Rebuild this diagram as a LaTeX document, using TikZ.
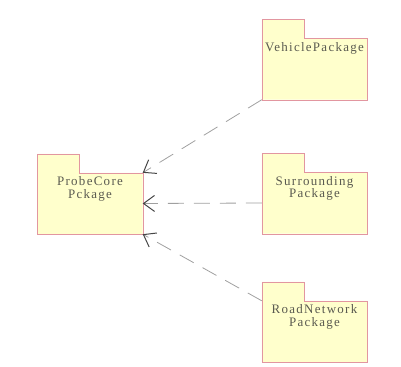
\documentclass[tikz,border=0pt]{standalone}
\usepackage{fontspec}
\setmainfont{Liberation Serif}
\usetikzlibrary{arrows.meta,backgrounds}

\definecolor{pkgfill}{RGB}{255,255,204}
\definecolor{pkgline}{RGB}{226,150,160}
\definecolor{pkgtext}{RGB}{90,90,80}
\definecolor{dashgray}{RGB}{160,160,160}
\definecolor{tipgray}{RGB}{70,70,70}

\begin{document}
\begin{tikzpicture}[x=1bp,y=1bp,
  pkg/.style={minimum width=105bp,minimum height=61bp,inner sep=0pt},
  pkgname/.style={anchor=north,yshift=-4bp,inner sep=0pt,align=center,text=pkgtext,
    font=\fontsize{13}{12.5}\selectfont\addfontfeature{LetterSpace=10}},
  dep/.style={draw=dashgray,line width=0.8bp,dash pattern=on 16bp off 10bp,
    -{Straight Barb[length=11bp,width=16bp,line width=1bp,color=tipgray]}}]
\useasboundingbox (0,0) rectangle (401,367);

\node[pkg,label={[pkgname]north:ProbeCore\\Pckage}] (probecore) at (90,163.5) {};
\node[pkg,label={[pkgname]north:VehiclePackage}] (vehicle) at (314.5,298) {};
\node[pkg,label={[pkgname]north:Surrounding\\Package}] (surrounding) at (314.5,164) {};
\node[pkg,label={[pkgname]north:RoadNetwork\\Package}] (roadnet) at (314.5,35.5) {};

% package outlines with tab
\begin{scope}[on background layer]
\foreach \p in {probecore,vehicle,surrounding,roadnet}
  \draw[pkgline,fill=pkgfill] (\p.south west) -- ([yshift=19bp]\p.north west)
    -- ++(42,0) |- (\p.north east) -- (\p.south east) -- cycle;
\end{scope}

\draw[dep] (vehicle.south west) -- (probecore.north east);
\draw[dep] (surrounding.west) -- (probecore.east);
\draw[dep] (roadnet.north west) -- (probecore.south east);

\end{tikzpicture}
\end{document}
